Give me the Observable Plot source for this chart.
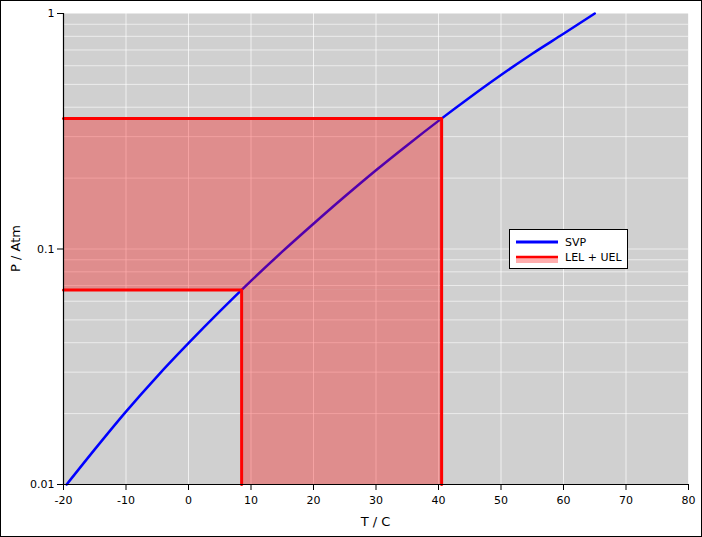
<!DOCTYPE html>
<html>
<head>
<meta charset="utf-8">
<script src="https://cdn.jsdelivr.net/npm/d3@7"></script>
<script src="https://cdn.jsdelivr.net/npm/@observablehq/plot@0.6"></script>
<style>
  html, body { margin: 0; padding: 0; background: white; }
  #chart svg { display: block; }
</style>
</head>
<body>
<div id="chart"></div>
<script>
// Saturated vapour pressure curve
const temps = [-19.5, -15, -10, -5, 0, 5, 10, 15, 20, 25, 30, 35, 40, 45, 50, 55, 60, 65];
const svp   = [0.010, 0.0141, 0.0204, 0.0288, 0.0398, 0.0543, 0.0732, 0.0974, 0.128, 0.167, 0.216, 0.276, 0.350, 0.44, 0.548, 0.675, 0.82, 1.0];

// Flammability limits
const lel = 0.067, uel = 0.358;
const tLel = 8.5, tUel = 40.5;

// Axis ticks
const xTicks = [-20, -10, 0, 10, 20, 30, 40, 50, 60, 70, 80];
const yTicks = [0.01, 0.1, 1];
const yGrid = [0.02,0.03,0.04,0.05,0.06,0.07,0.08,0.09,0.1,0.2,0.3,0.4,0.5,0.6,0.7,0.8,0.9];

const curve = temps.map((t, i) => ({T: t, P: svp[i]}));
const fillRects = [
  {x1: -20, x2: tUel, y1: lel, y2: uel},
  {x1: tLel, x2: tUel, y1: 0.01, y2: lel}
];
const upperLine = [{T: -20, P: uel}, {T: tUel, P: uel}, {T: tUel, P: 0.01}];
const lowerLine = [{T: -20, P: lel}, {T: tLel, P: lel}, {T: tLel, P: 0.01}];

const W = 702, H = 537;
const chart = Plot.plot({
  width: W, height: H,
  marginLeft: 63, marginRight: 14, marginTop: 13, marginBottom: 53,
  x: {domain: [-20, 80]},
  y: {type: "log", domain: [0.01, 1]},
  style: {fontFamily: "DejaVu Sans", fontSize: "11px", color: "black", background: "white"},
  marks: [
    Plot.frame({fill: "#d0d0d0", stroke: "none"}),
    Plot.gridX(xTicks, {stroke: "white", strokeOpacity: 0.7, strokeWidth: 1}),
    Plot.gridY(yGrid, {stroke: "white", strokeOpacity: 0.6, strokeWidth: 1}),
    Plot.line(curve, {x: "T", y: "P", stroke: "blue", strokeWidth: 2.5, curve: "monotone-x"}),
    Plot.rect(fillRects, {x1: "x1", x2: "x2", y1: "y1", y2: "y2", fill: "red", fillOpacity: 0.32}),
    Plot.line(upperLine, {x: "T", y: "P", stroke: "red", strokeWidth: 3}),
    Plot.line(lowerLine, {x: "T", y: "P", stroke: "red", strokeWidth: 3}),
    Plot.ruleX([-20], {stroke: "black", strokeWidth: 1.2}),
    Plot.ruleY([0.01], {stroke: "black", strokeWidth: 1.2}),
    Plot.axisX({ticks: xTicks, tickSize: 6, tickPadding: 6, label: null, tickFormat: d => String(d)}),
    Plot.axisY({ticks: yTicks, tickSize: 6, tickPadding: 3, label: null, tickFormat: d => String(d)})
  ]
});
document.getElementById("chart").appendChild(chart);

const svg = d3.select(chart);
// axis labels
svg.append("text").attr("x", 375.5).attr("y", 526).attr("text-anchor", "middle")
  .attr("font-family", "DejaVu Sans").attr("font-size", 13).attr("fill", "black").text("T / C");
svg.append("text").attr("transform", "translate(20,248.5) rotate(-90)").attr("text-anchor", "middle")
  .attr("font-family", "DejaVu Sans").attr("font-size", 13).attr("fill", "black").text("P / Atm");

// legend
const lg = svg.append("g").attr("font-family", "DejaVu Sans").attr("font-size", 11).attr("text-anchor", "start");
lg.append("rect").attr("x", 509.5).attr("y", 229.5).attr("width", 118).attr("height", 39)
  .attr("fill", "white").attr("stroke", "black").attr("stroke-width", 1);
lg.append("line").attr("x1", 516).attr("x2", 558).attr("y1", 242).attr("y2", 242)
  .attr("stroke", "blue").attr("stroke-width", 3);
lg.append("text").attr("x", 565).attr("y", 246).attr("fill", "black").attr("text-anchor", "start").text("SVP");
lg.append("rect").attr("x", 516).attr("y", 256).attr("width", 42).attr("height", 7)
  .attr("fill", "red").attr("fill-opacity", 0.32);
lg.append("line").attr("x1", 516).attr("x2", 558).attr("y1", 257).attr("y2", 257)
  .attr("stroke", "red").attr("stroke-width", 2.6);
lg.append("text").attr("x", 565).attr("y", 261).attr("fill", "black").attr("text-anchor", "start").text("LEL + UEL");

// outer border
svg.append("rect").attr("x", 0.5).attr("y", 0.5).attr("width", W - 1).attr("height", H - 1)
  .attr("fill", "none").attr("stroke", "black").attr("stroke-width", 1);
</script>
</body>
</html>
